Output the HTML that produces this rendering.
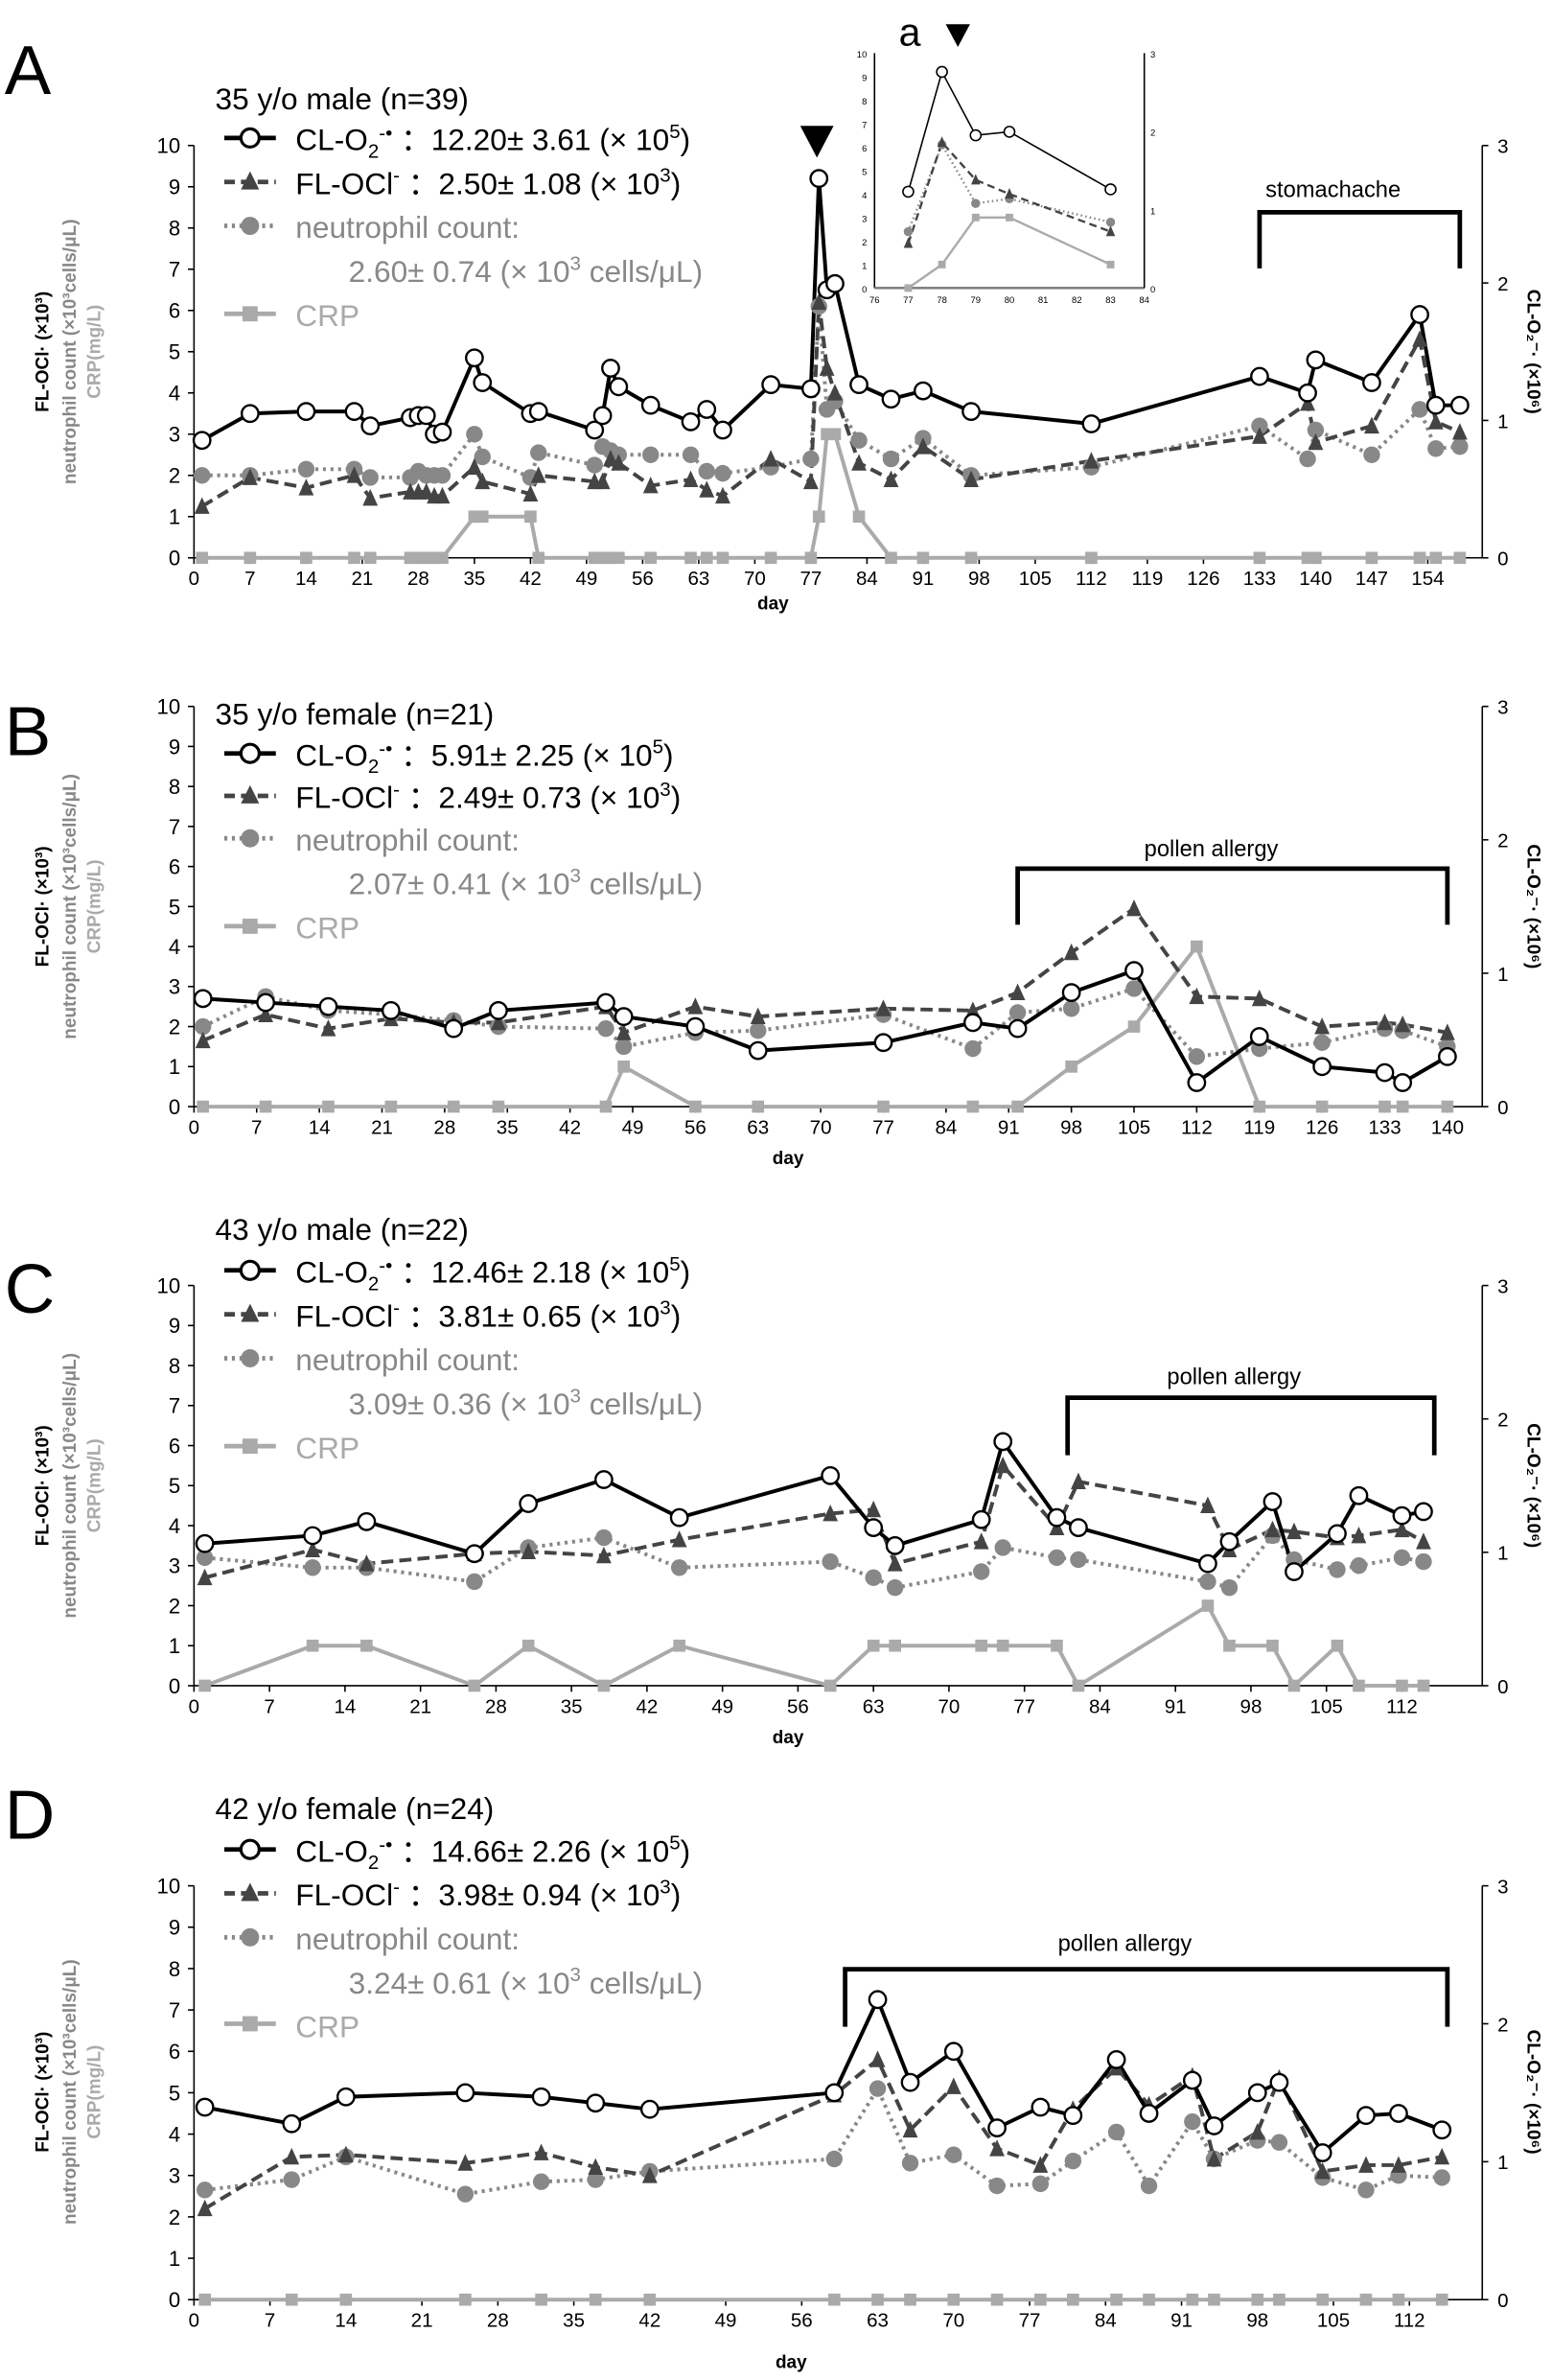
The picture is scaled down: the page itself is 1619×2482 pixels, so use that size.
<!DOCTYPE html>
<html><head><meta charset="utf-8"><style>
html,body{margin:0;padding:0;background:#fff}
svg{display:block}
text{font-family:"Liberation Sans",sans-serif}
</style></head><body>
<svg id="s" width="1619" height="2482" viewBox="0 0 1024 1570" preserveAspectRatio="none" xmlns="http://www.w3.org/2000/svg">
<g font-size="46"><text x="3" y="62">A</text><text x="3" y="498">B</text><text x="3" y="866">C</text><text x="3" y="1213">D</text></g>
<text x="593" y="30" font-size="26">a</text>
<g font-size="20">
<text x="142" y="72">35 y/o male (n=39)</text>
<text x="195" y="99">CL-O<tspan font-size="13" dy="5">2</tspan><tspan font-size="13" dy="-12">-•</tspan><tspan dy="7"> ：12.20± 3.61 (× 10</tspan><tspan font-size="13" dy="-8">5</tspan><tspan dy="8">)</tspan></text>
<text x="195" y="128">FL-OCl<tspan font-size="13" dy="-8">-</tspan><tspan dy="8"> ：2.50± 1.08 (× 10</tspan><tspan font-size="13" dy="-8">3</tspan><tspan dy="8">)</tspan></text>
<text x="195" y="157" fill="#888">neutrophil count:</text>
<text x="230" y="186" fill="#888">2.60± 0.74 (× 10<tspan font-size="13" dy="-8">3</tspan><tspan dy="8"> cells/μL)</tspan></text>
<text x="195" y="215" fill="#aaa">CRP</text>

<text x="142" y="478">35 y/o female (n=21)</text>
<text x="195" y="505">CL-O<tspan font-size="13" dy="5">2</tspan><tspan font-size="13" dy="-12">-•</tspan><tspan dy="7"> ：5.91± 2.25 (× 10</tspan><tspan font-size="13" dy="-8">5</tspan><tspan dy="8">)</tspan></text>
<text x="195" y="533">FL-OCl<tspan font-size="13" dy="-8">-</tspan><tspan dy="8"> ：2.49± 0.73 (× 10</tspan><tspan font-size="13" dy="-8">3</tspan><tspan dy="8">)</tspan></text>
<text x="195" y="561" fill="#888">neutrophil count:</text>
<text x="230" y="590" fill="#888">2.07± 0.41 (× 10<tspan font-size="13" dy="-8">3</tspan><tspan dy="8"> cells/μL)</tspan></text>
<text x="195" y="619" fill="#aaa">CRP</text>

<text x="142" y="818">43 y/o male (n=22)</text>
<text x="195" y="846">CL-O<tspan font-size="13" dy="5">2</tspan><tspan font-size="13" dy="-12">-•</tspan><tspan dy="7"> ：12.46± 2.18 (× 10</tspan><tspan font-size="13" dy="-8">5</tspan><tspan dy="8">)</tspan></text>
<text x="195" y="875">FL-OCl<tspan font-size="13" dy="-8">-</tspan><tspan dy="8"> ：3.81± 0.65 (× 10</tspan><tspan font-size="13" dy="-8">3</tspan><tspan dy="8">)</tspan></text>
<text x="195" y="904" fill="#888">neutrophil count:</text>
<text x="230" y="933" fill="#888">3.09± 0.36 (× 10<tspan font-size="13" dy="-8">3</tspan><tspan dy="8"> cells/μL)</tspan></text>
<text x="195" y="962" fill="#aaa">CRP</text>

<text x="142" y="1200">42 y/o female (n=24)</text>
<text x="195" y="1228">CL-O<tspan font-size="13" dy="5">2</tspan><tspan font-size="13" dy="-12">-•</tspan><tspan dy="7"> ：14.66± 2.26 (× 10</tspan><tspan font-size="13" dy="-8">5</tspan><tspan dy="8">)</tspan></text>
<text x="195" y="1257">FL-OCl<tspan font-size="13" dy="-8">-</tspan><tspan dy="8"> ：3.98± 0.94 (× 10</tspan><tspan font-size="13" dy="-8">3</tspan><tspan dy="8">)</tspan></text>
<text x="195" y="1286" fill="#888">neutrophil count:</text>
<text x="230" y="1315" fill="#888">3.24± 0.61 (× 10<tspan font-size="13" dy="-8">3</tspan><tspan dy="8"> cells/μL)</tspan></text>
<text x="195" y="1344" fill="#aaa">CRP</text>
</g>
<g font-size="15">
<text x="835" y="130">stomachache</text>
<text x="755" y="565">pollen allergy</text>
<text x="770" y="913">pollen allergy</text>
<text x="698" y="1287">pollen allergy</text>
</g>
<g font-size="12" font-weight="bold" text-anchor="middle">
<text transform="translate(32,232) rotate(-90)">FL-OCl· (×10³)</text>
<text transform="translate(50,232) rotate(-90)" fill="#888">neutrophil count (×10³cells/μL)</text>
<text transform="translate(66,232) rotate(-90)" fill="#aaa">CRP(mg/L)</text>
<text transform="translate(1008,232) rotate(90)">CL-O₂⁻· (×10⁶)</text>
<text transform="translate(32,598) rotate(-90)">FL-OCl· (×10³)</text>
<text transform="translate(50,598) rotate(-90)" fill="#888">neutrophil count (×10³cells/μL)</text>
<text transform="translate(66,598) rotate(-90)" fill="#aaa">CRP(mg/L)</text>
<text transform="translate(1008,598) rotate(90)">CL-O₂⁻· (×10⁶)</text>
<text transform="translate(32,980) rotate(-90)">FL-OCl· (×10³)</text>
<text transform="translate(50,980) rotate(-90)" fill="#888">neutrophil count (×10³cells/μL)</text>
<text transform="translate(66,980) rotate(-90)" fill="#aaa">CRP(mg/L)</text>
<text transform="translate(1008,980) rotate(90)">CL-O₂⁻· (×10⁶)</text>
<text transform="translate(32,1380) rotate(-90)">FL-OCl· (×10³)</text>
<text transform="translate(50,1380) rotate(-90)" fill="#888">neutrophil count (×10³cells/μL)</text>
<text transform="translate(66,1380) rotate(-90)" fill="#aaa">CRP(mg/L)</text>
<text transform="translate(1008,1380) rotate(90)">CL-O₂⁻· (×10⁶)</text>
<text x="510" y="402">day</text><text x="520" y="768">day</text><text x="520" y="1150">day</text><text x="522" y="1562">day</text>
</g>
<g id="gen"></g>
</svg>
<script>
var NS="http://www.w3.org/2000/svg",G=document.getElementById("gen");
function el(t,a,txt){var e=document.createElementNS(NS,t);for(var k in a)e.setAttribute(k,a[k]);if(txt!=null)e.textContent=txt;G.appendChild(e);return e;}
function panel(P){
 var X=function(d){return P.x0+d*P.pd},Y=function(v){return P.y0-v*P.pu};
 el("line",{x1:P.x0,y1:P.y0-10*P.pu,x2:P.x0,y2:P.y0,stroke:"#000","stroke-width":1});
 el("line",{x1:P.x0,y1:P.y0,x2:P.xr,y2:P.y0,stroke:"#000","stroke-width":1});
 el("line",{x1:P.xr,y1:P.y0-10*P.pu,x2:P.xr,y2:P.y0,stroke:"#000","stroke-width":1});
 for(var i=0;i<=10;i++){el("line",{x1:P.x0-4,x2:P.x0,y1:Y(i),y2:Y(i),stroke:"#000"});el("text",{x:P.x0-9,y:Y(i)+5,"font-size":14,"text-anchor":"end"},i);}
 for(i=0;i<=3;i++){el("line",{x1:P.xr,x2:P.xr+4,y1:Y(i*10/3),y2:Y(i*10/3),stroke:"#000"});el("text",{x:P.xr+10,y:Y(i*10/3)+5,"font-size":13},i);}
 for(var d=0;d<=P.max;d+=7){el("line",{x1:X(d),x2:X(d),y1:P.y0,y2:P.y0+4,stroke:"#000"});el("text",{x:X(d),y:P.y0+18,"font-size":13,"text-anchor":"middle"},d);}
 var days=P.days;
 function line(vals,st){var p=days.map(function(d,i){return X(d)+","+Y(vals[i])}).join(" ");var a={points:p,fill:"none"};for(var k in st)a[k]=st[k];el("polyline",a);}
 line(P.crp,{stroke:"#aaa","stroke-width":2.5});
 line(P.ne,{stroke:"#888","stroke-width":2.5,"stroke-dasharray":"2,3"});
 line(P.fl,{stroke:"#444","stroke-width":2.5,"stroke-dasharray":"8,4"});
 line(P.cl,{stroke:"#000","stroke-width":2.5});
 days.forEach(function(d,i){el("rect",{x:X(d)-4,y:Y(P.crp[i])-4,width:8,height:8,fill:"#aaa"});});
 days.forEach(function(d,i){el("circle",{cx:X(d),cy:Y(P.ne[i]),r:5.5,fill:"#888"});});
 days.forEach(function(d,i){var x=X(d),y=Y(P.fl[i]);el("polygon",{points:(x-5)+","+(y+5)+" "+(x+5)+","+(y+5)+" "+x+","+(y-6),fill:"#444"});});
 days.forEach(function(d,i){el("circle",{cx:X(d),cy:Y(P.cl[i]),r:5.5,fill:"#fff",stroke:"#000","stroke-width":1.5});});
 if(P.br){var a=X(P.br[0]),b=X(P.br[1]);el("polyline",{points:a+","+P.br[3]+" "+a+","+P.br[2]+" "+b+","+P.br[2]+" "+b+","+P.br[3],fill:"none",stroke:"#000","stroke-width":3});}
}
panel({x0:128,xr:978,y0:368,pu:27.2,pd:5.286,max:154,br:[133,158,140,177],
days:[1,7,14,20,22,27,28,29,30,31,35,36,42,43,50,51,52,53,57,62,64,66,72,77,78,79,80,83,87,91,97,112,133,139,140,147,153,155,158],
cl:[2.85,3.5,3.55,3.55,3.2,3.4,3.45,3.45,3.0,3.05,4.85,4.25,3.5,3.55,3.1,3.45,4.6,4.15,3.7,3.3,3.6,3.1,4.2,4.1,9.2,6.5,6.65,4.2,3.85,4.05,3.55,3.25,4.4,4.0,4.8,4.25,5.9,3.7,3.7],
fl:[1.25,1.95,1.7,2.0,1.45,1.6,1.6,1.6,1.5,1.5,2.2,1.85,1.55,2.0,1.85,1.85,2.4,2.3,1.75,1.9,1.65,1.5,2.4,1.85,6.2,4.6,4.0,2.3,1.9,2.7,1.9,2.35,2.95,3.75,2.8,3.2,5.3,3.3,3.05],
ne:[2.0,2.0,2.15,2.15,1.95,1.95,2.1,2.0,2.0,2.0,3.0,2.45,1.95,2.55,2.25,2.7,2.6,2.5,2.5,2.5,2.1,2.05,2.2,2.4,6.1,3.6,3.8,2.85,2.4,2.9,2.0,2.2,3.2,2.4,3.1,2.5,3.6,2.65,2.7],
crp:[0,0,0,0,0,0,0,0,0,0,1,1,1,0,0,0,0,0,0,0,0,0,0,0,1,3,3,1,0,0,0,0,0,0,0,0,0,0,0]});
panel({x0:128,xr:978,y0:730,pu:26.4,pd:5.907,max:140,br:[92,140,573,610],
days:[1,8,15,22,29,34,46,48,56,63,77,87,92,98,105,112,119,126,133,135,140],
cl:[2.7,2.6,2.5,2.4,1.95,2.4,2.6,2.25,2.0,1.4,1.6,2.1,1.95,2.85,3.4,0.6,1.75,1.0,0.85,0.6,1.25],
fl:[1.65,2.3,1.95,2.2,2.1,2.1,2.5,1.85,2.5,2.25,2.45,2.4,2.85,3.85,4.95,2.75,2.7,2.0,2.1,2.05,1.85],
ne:[2.0,2.75,2.4,2.3,2.15,2.0,1.95,1.5,1.85,1.9,2.3,1.45,2.35,2.45,2.95,1.25,1.45,1.6,1.95,1.9,1.5],
crp:[0,0,0,0,0,0,0,1,0,0,0,0,0,1,2,4,0,0,0,0,0]});
panel({x0:128,xr:978,y0:1112,pu:26.4,pd:7.116,max:112,br:[81,115,922,960],
days:[1,11,16,26,31,38,45,59,63,65,73,75,80,82,94,96,100,102,106,108,112,114],
cl:[3.55,3.75,4.1,3.3,4.55,5.15,4.2,5.25,3.95,3.5,4.15,6.1,4.2,3.95,3.05,3.6,4.6,2.85,3.8,4.75,4.25,4.35],
fl:[2.7,3.4,3.05,3.3,3.35,3.25,3.65,4.3,4.4,3.05,3.6,5.5,3.95,5.1,4.5,3.4,3.9,3.85,3.7,3.75,3.9,3.6],
ne:[3.2,2.95,2.95,2.6,3.45,3.7,2.95,3.1,2.7,2.45,2.85,3.45,3.2,3.15,2.6,2.45,3.75,3.15,2.9,3.0,3.2,3.1],
crp:[0,1,1,0,1,0,1,0,1,1,1,1,1,0,2,1,1,0,1,0,0,0]});
panel({x0:128,xr:978,y0:1517,pu:27.3,pd:7.16,max:112,br:[60,115.5,1299,1337],
days:[1,9,14,25,32,37,42,59,63,66,70,74,78,81,85,88,92,94,98,100,104,108,111,115],
cl:[4.65,4.25,4.9,5.0,4.9,4.75,4.6,5.0,7.25,5.25,6.0,4.15,4.65,4.45,5.8,4.5,5.3,4.2,5.0,5.25,3.55,4.45,4.5,4.1],
fl:[2.2,3.45,3.5,3.3,3.55,3.2,3.0,4.95,5.8,4.1,5.15,3.65,3.25,4.6,5.6,4.7,5.4,3.4,4.05,5.35,3.1,3.25,3.25,3.45],
ne:[2.65,2.9,3.45,2.55,2.85,2.9,3.1,3.4,5.1,3.3,3.5,2.75,2.8,3.35,4.05,2.75,4.3,3.4,3.85,3.8,2.95,2.65,3.0,2.95],
crp:[0,0,0,0,0,0,0,0,0,0,0,0,0,0,0,0,0,0,0,0,0,0,0,0]});
[[91,120,149,207],[497,525,553,611],[838,867,896,954],[1220,1249,1278,1335]].forEach(function(r){
 el("line",{x1:148,x2:182,y1:r[0],y2:r[0],stroke:"#000","stroke-width":3});el("circle",{cx:165,cy:r[0],r:6,fill:"#fff",stroke:"#000","stroke-width":2});
 el("line",{x1:148,x2:182,y1:r[1],y2:r[1],stroke:"#444","stroke-width":3,"stroke-dasharray":"7,4"});el("polygon",{points:"159,"+(r[1]+5)+" 171,"+(r[1]+5)+" 165,"+(r[1]-7),fill:"#444"});
 el("line",{x1:148,x2:182,y1:r[2],y2:r[2],stroke:"#888","stroke-width":3,"stroke-dasharray":"2,3"});el("circle",{cx:165,cy:r[2],r:6,fill:"#888"});
 el("line",{x1:148,x2:182,y1:r[3],y2:r[3],stroke:"#aaa","stroke-width":3});el("rect",{x:160,y:r[3]-5,width:10,height:10,fill:"#aaa"});
});
el("polygon",{points:"528,83 550,83 539,104",fill:"#000"});
el("polygon",{points:"624,16 640,16 632,31",fill:"#000"});
(function(){var x0=577,x1=755,y0=190,y1=35,X=function(d){return x0+(d-76)*22.25},Y=function(v){return y0-v*15.5};
el("line",{x1:x0,y1:y1,x2:x0,y2:y0,stroke:"#000"});el("line",{x1:x0,y1:y0,x2:x1,y2:y0,stroke:"#777","stroke-width":1.5});el("line",{x1:x1,y1:y1,x2:x1,y2:y0,stroke:"#000"});
for(var i=0;i<=10;i++)el("text",{x:x0-5,y:Y(i)+3,"font-size":6,"text-anchor":"end"},i);
for(i=0;i<=3;i++)el("text",{x:x1+4,y:Y(i*10/3)+3,"font-size":6},i);
for(var d=76;d<=84;d++)el("text",{x:X(d),y:y0+10,"font-size":6,"text-anchor":"middle"},d);
var ds=[77,78,79,80,83];
function L(v,st){var a={points:ds.map(function(d,i){return X(d)+","+Y(v[i])}).join(" "),fill:"none"};for(var k in st)a[k]=st[k];el("polyline",a);}
var crp=[0,1,3,3,1],ne=[2.4,6.1,3.6,3.8,2.8],fl=[1.9,6.2,4.6,4.0,2.4],cl=[4.1,9.2,6.5,6.65,4.2];
L(crp,{stroke:"#aaa","stroke-width":1.5});L(ne,{stroke:"#888","stroke-width":1.5,"stroke-dasharray":"1,2"});L(fl,{stroke:"#444","stroke-width":1.5,"stroke-dasharray":"5,3"});L(cl,{stroke:"#000","stroke-width":1});
ds.forEach(function(d,i){el("rect",{x:X(d)-2.5,y:Y(crp[i])-2.5,width:5,height:5,fill:"#aaa"});el("circle",{cx:X(d),cy:Y(ne[i]),r:3,fill:"#888"});var x=X(d),y=Y(fl[i]);el("polygon",{points:(x-3)+","+(y+3)+" "+(x+3)+","+(y+3)+" "+x+","+(y-4),fill:"#444"});el("circle",{cx:X(d),cy:Y(cl[i]),r:3.5,fill:"#fff",stroke:"#000"});});
})();
</script>
</body></html>
